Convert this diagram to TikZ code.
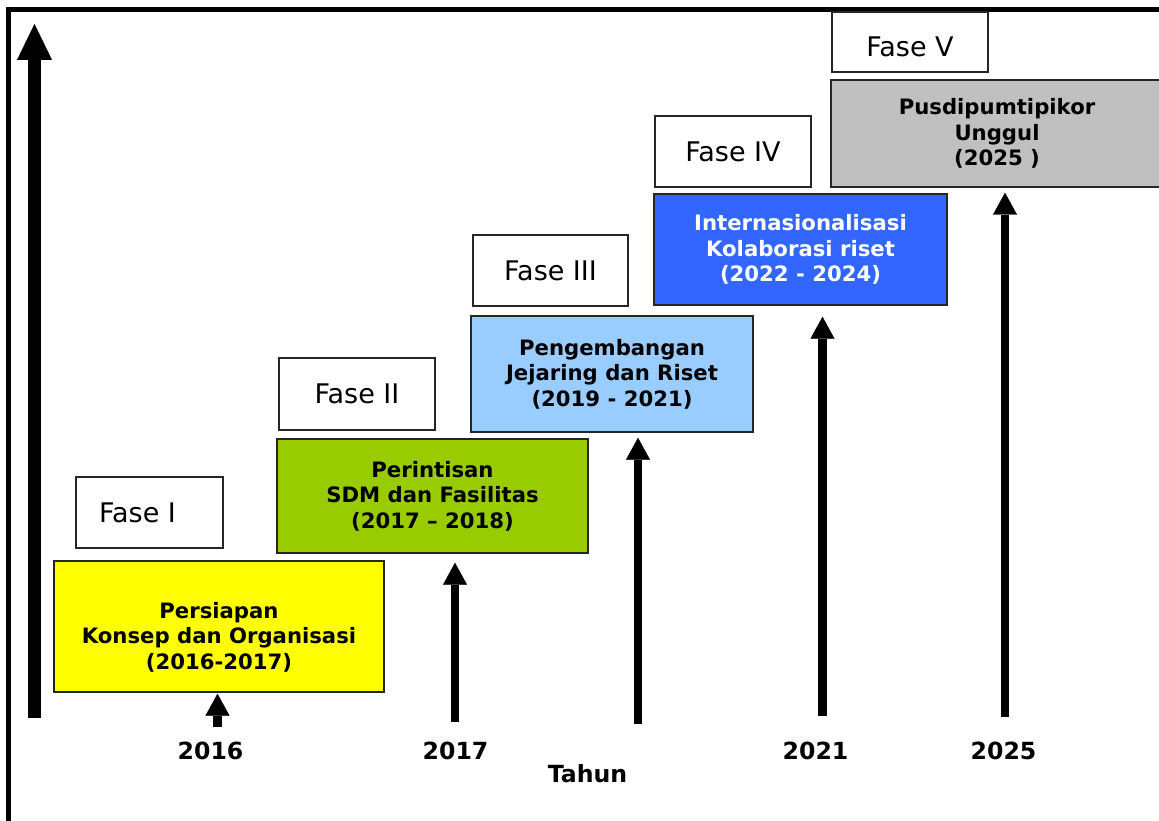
\documentclass[tikz,border=0pt]{standalone}
\usepackage{fontspec}
\setmainfont{DejaVu Sans}
\usetikzlibrary{arrows.meta}

\definecolor{kuning}{HTML}{FFFF00}
\definecolor{hijau}{HTML}{99CC00}
\definecolor{birumuda}{HTML}{99CCFF}
\definecolor{biru}{HTML}{3366FF}
\definecolor{abu}{HTML}{C0C0C0}

\begin{document}
\begin{tikzpicture}[x=1pt,y=-1pt,
	phase/.style={draw=black!85, line width=1.4pt, align=center, inner sep=0pt,
		font=\bfseries\fontsize{21.2}{25.5}\selectfont},
	fase/.style={draw=black!85, line width=1.4pt, fill=white, inner sep=0pt,
		font=\fontsize{27}{32}\selectfont},
	tahun/.style={anchor=base, font=\bfseries\fontsize{23.6}{28}\selectfont},
	bigarrow/.style={line width=12.5pt, -{Triangle[width=35pt,length=36pt,line width=0.4pt]}},
	yeararrow/.style={line width=8.5pt, -{Triangle[width=24pt,length=22pt,line width=0.4pt]}}]
	\useasboundingbox (0,0) rectangle (1159,821);
	
	% frame
	\draw [line width=4.5pt] (8.5,821) -- (8.5,9.5) -- (1165,9.5);
	
	\draw [bigarrow] (34.5,718) coordinate (vbawah) -- (34.5,24) coordinate (vatas);
	
	% phases
	\node [phase, fill=kuning, minimum width=330, minimum height=131] (persiapan) at (219,626.5)
		{\rule{0pt}{37pt}Persiapan\\ Konsep dan Organisasi\\ (2016-2017)};
	\node [phase, fill=hijau, minimum width=311, minimum height=114] (perintisan) at (432.5,496)
		{Perintisan\\ SDM dan Fasilitas\\ (2017 -- 2018)};
	\node [phase, fill=birumuda, minimum width=282, minimum height=116] (pengembangan) at (612,374)
		{Pengembangan\\ Jejaring dan Riset\\ (2019 - 2021)};
	\node [phase, fill=biru, text=white, minimum width=293, minimum height=111] (internasional) at (800.5,249.5)
		{Internasionalisasi\\ Kolaborasi riset\\ (2022 - 2024)};
	\node [phase, fill=abu, minimum width=332, minimum height=107] (unggul) at (997,133.5)
		{Pusdipumtipikor\\ Unggul\\ (2025 )};
	
	\node [fase, minimum width=147, minimum height=71] (faseI) at (149.5,512.5) {Fase I\hspace*{24pt}};
	\node [fase, minimum width=156, minimum height=72] (faseII) at (357,394) {Fase II};
	\node [fase, minimum width=155, minimum height=71] (faseIII) at (550.5,270.5) {Fase III};
	\node [fase, minimum width=156, minimum height=71] (faseIV) at (733,151.5) {Fase IV};
	\node [fase, minimum width=156, minimum height=60, text height=29.5pt] (faseV) at (910,42) {Fase V};
	
	% years
	\coordinate (a2016) at (217.5,727);
	\coordinate (a2017) at (455,722);
	\coordinate (a2019) at (638,724);
	\coordinate (a2021) at (822.5,716);
	\coordinate (a2025) at (1005,717);
	
	\draw [yeararrow, shorten >=1pt] (a2016) -- (a2016 |- persiapan.south);
	\draw [yeararrow, shorten >=9pt] (a2017) -- (a2017 |- perintisan.south);
	\draw [yeararrow, shorten >=5pt] (a2019) -- (a2019 |- pengembangan.south);
	\draw [yeararrow, shorten >=11pt] (a2021) -- (a2021 |- internasional.south);
	\draw [yeararrow, shorten >=5pt] (a2025) -- (a2025 |- unggul.south);
	
	\node [tahun] (t2016) at (210.5,759) {2016};
	\node [tahun] (t2017) at (455.5,759) {2017};
	\node [tahun] (t2021) at (815.5,759) {2021};
	\node [tahun] (t2025) at (1003.5,759) {2025};
	\node [tahun] (tahun) at (587.5,782) {Tahun};
\end{tikzpicture}
\end{document}
